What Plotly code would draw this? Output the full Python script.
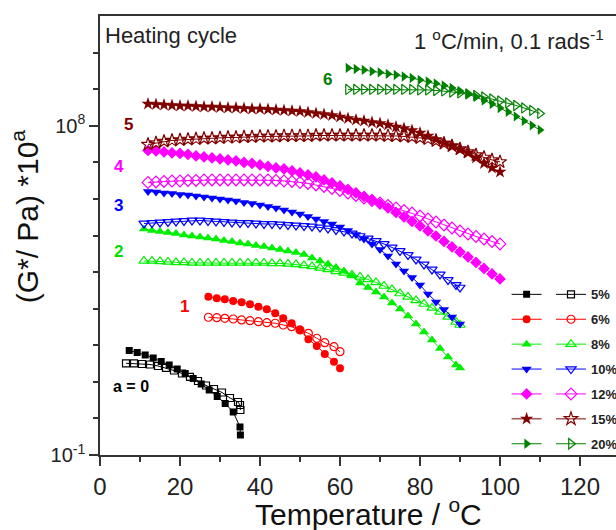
import plotly.graph_objects as go

FONT = "Liberation Sans, Arial, sans-serif"

# ---------------- data (log10 of G*·10^a) ----------------
names = ["5%", "6%", "8%", "10%", "12%", "15%", "20%"]
colors = ["#000000", "#ff0000", "#00ee00", "#0000ff", "#ff00ff", "#800000", "#008000"]
sym_filled = ["square", "circle", "triangle-up", "triangle-down", "diamond", "star", "triangle-right"]
sym_open = ["square-open", "circle-open", "triangle-up-open", "triangle-down-open",
            "diamond-open", "star-open", "triangle-right-open"]
msize = [7, 8, 9, 9, 9, 10, 9]

T_5f = [7.3, 9.3, 11.3, 13.3, 15.3, 17.3, 19.3, 21.3, 23.3, 25.3, 27.3, 29.3, 31.3, 33.3, 35.0, 35.1]
L_5f = [1.857, 1.802, 1.734, 1.652, 1.556, 1.461, 1.351, 1.228, 1.092, 0.941, 0.777, 0.599, 0.408,
        0.176, -0.234, -0.453]
T_5o = [6.5, 8.5, 10.5, 12.5, 14.5, 16.5, 18.5, 20.5, 22.5, 24.5, 26.5, 28.5, 30.5, 32.5, 34.5, 35.0, 35.1]
L_5o = [1.507, 1.502, 1.488, 1.474, 1.433, 1.379, 1.310, 1.228, 1.133, 1.023, 0.900, 0.804, 0.709,
        0.558, 0.449, 0.367, 0.230]

T_6 = [27.1, 29.2, 31.2, 33.3, 35.4, 37.5, 39.6, 41.7, 43.8, 45.8, 47.9, 50.0, 52.1, 54.2, 56.2, 58.5, 60.0]
L_6f = [3.328, 3.284, 3.257, 3.210, 3.175, 3.120, 3.055, 2.983, 2.874, 2.737, 2.601, 2.418, 2.163,
        1.980, 1.761, 1.551, 1.370]
L_6o = [2.765, 2.754, 2.737, 2.718, 2.691, 2.672, 2.644, 2.617, 2.601, 2.554, 2.508, 2.418, 2.327,
        2.191, 2.070, 1.961, 1.824]

T_8 = [11, 13, 15, 17, 19, 21, 23, 25, 27, 29, 31, 33, 35, 37, 39, 41, 43, 45, 47, 49, 51, 53, 55,
       57, 59, 61, 63, 65, 67, 69, 71, 73, 75, 77, 79, 81, 83, 85, 87, 89, 90]
L_8f = [5.179, 5.138, 5.110, 5.083, 5.056, 5.015, 4.987, 4.960, 4.933, 4.905, 4.864, 4.837, 4.796,
        4.769, 4.728, 4.700, 4.659, 4.618, 4.577, 4.536, 4.482, 4.386, 4.304, 4.222, 4.126, 4.031,
        3.894, 3.702, 3.579, 3.456, 3.320, 3.156, 2.992, 2.800, 2.582, 2.363, 2.144, 1.912, 1.679,
        1.461, 1.379]
L_8o = [4.304, 4.304, 4.290, 4.277, 4.263, 4.263, 4.249, 4.249, 4.249, 4.249, 4.249, 4.249, 4.249,
        4.249, 4.249, 4.249, 4.236, 4.236, 4.222, 4.208, 4.181, 4.154, 4.113, 4.072, 4.017, 3.976,
        3.921, 3.867, 3.798, 3.716, 3.620, 3.525, 3.415, 3.320, 3.224, 3.128, 3.019, 2.910, 2.773,
        2.636, 2.554]

T_10f = [12, 14, 16, 18, 20, 22, 24, 26, 28, 30, 32, 34, 36, 38, 40, 42, 44, 46, 48, 50, 52, 54, 56,
         58, 60, 62, 64, 66, 68, 70, 72, 74, 76, 78, 80, 82, 84, 86, 88, 90]
L_10f = [6.204, 6.190, 6.163, 6.149, 6.122, 6.108, 6.081, 6.054, 6.026, 5.999, 5.972, 5.944, 5.903,
         5.876, 5.835, 5.794, 5.753, 5.698, 5.644, 5.589, 5.521, 5.452, 5.384, 5.316, 5.234, 5.138,
         5.028, 4.905, 4.769, 4.618, 4.441, 4.222, 4.031, 3.853, 3.648, 3.402, 3.183, 2.978, 2.773,
         2.582]
T_10o = T_8
L_10o = [5.329, 5.343, 5.357, 5.370, 5.384, 5.398, 5.411, 5.411, 5.398, 5.384, 5.370, 5.357, 5.343,
         5.343, 5.329, 5.316, 5.316, 5.302, 5.288, 5.275, 5.261, 5.247, 5.220, 5.193, 5.152, 5.110,
         5.056, 4.987, 4.919, 4.851, 4.769, 4.673, 4.577, 4.468, 4.345, 4.208, 4.072, 3.935, 3.785,
         3.648, 3.579]

T_12 = [12, 14, 16, 18, 20, 22, 24, 26, 28, 30, 32, 34, 36, 38, 40, 42, 44, 46, 48, 50, 52, 54, 56,
        58, 60, 62, 64, 66, 68, 70, 72, 74, 76, 78, 80, 82, 84, 86, 88, 90, 92, 94, 96, 98, 100]
L_12f = [7.325, 7.311, 7.284, 7.257, 7.243, 7.216, 7.175, 7.147, 7.120, 7.093, 7.065, 7.038, 6.997,
         6.970, 6.929, 6.888, 6.847, 6.819, 6.765, 6.710, 6.655, 6.601, 6.519, 6.436, 6.354, 6.259,
         6.163, 6.067, 5.972, 5.862, 5.753, 5.630, 5.507, 5.384, 5.261, 5.124, 4.987, 4.837, 4.687,
         4.550, 4.413, 4.263, 4.099, 3.949, 3.812]
L_12o = [6.450, 6.464, 6.478, 6.491, 6.491, 6.505, 6.505, 6.519, 6.519, 6.519, 6.519, 6.519, 6.519,
         6.519, 6.519, 6.519, 6.505, 6.491, 6.478, 6.450, 6.423, 6.382, 6.341, 6.286, 6.231, 6.163,
         6.095, 6.026, 5.958, 5.890, 5.821, 5.753, 5.685, 5.616, 5.534, 5.452, 5.370, 5.288, 5.206,
         5.124, 5.042, 4.974, 4.905, 4.837, 4.769]

T_15 = T_12
L_15f = [8.596, 8.583, 8.569, 8.555, 8.542, 8.542, 8.528, 8.514, 8.514, 8.501, 8.487, 8.487, 8.473,
         8.460, 8.460, 8.446, 8.432, 8.419, 8.405, 8.391, 8.364, 8.337, 8.309, 8.282, 8.241, 8.200,
         8.159, 8.132, 8.091, 8.063, 8.022, 7.968, 7.926, 7.872, 7.803, 7.722, 7.626, 7.530, 7.448,
         7.352, 7.257, 7.120, 6.970, 6.847, 6.737]
L_15o = [7.489, 7.530, 7.571, 7.598, 7.612, 7.626, 7.639, 7.653, 7.653, 7.667, 7.680, 7.680, 7.694,
         7.694, 7.708, 7.708, 7.708, 7.722, 7.722, 7.722, 7.722, 7.735, 7.735, 7.735, 7.735, 7.735,
         7.735, 7.735, 7.735, 7.735, 7.722, 7.722, 7.708, 7.694, 7.667, 7.639, 7.585, 7.516, 7.448,
         7.366, 7.284, 7.202, 7.134, 7.065, 7.011]

T_20 = [62, 64, 66, 68, 70, 72, 74, 76, 78, 80, 82, 84, 86, 88, 90, 92, 94, 96, 98, 100, 102, 104,
        106, 108, 110]
L_20f = [9.581, 9.553, 9.526, 9.485, 9.458, 9.417, 9.389, 9.348, 9.307, 9.253, 9.211, 9.157, 9.102,
         9.034, 8.952, 8.870, 8.788, 8.692, 8.596, 8.487, 8.378, 8.255, 8.132, 8.009, 7.886]
L_20o = [8.993, 8.993, 8.993, 8.993, 8.993, 8.993, 8.993, 8.993, 8.993, 8.979, 8.979, 8.965, 8.952,
         8.924, 8.897, 8.870, 8.829, 8.788, 8.733, 8.678, 8.624, 8.555, 8.487, 8.419, 8.337]

filled = [(T_5f, L_5f), (T_6, L_6f), (T_8, L_8f), (T_10f, L_10f), (T_12, L_12f), (T_15, L_15f), (T_20, L_20f)]
opened = [(T_5o, L_5o), (T_6, L_6o), (T_8, L_8o), (T_10o, L_10o), (T_12, L_12o), (T_15, L_15o), (T_20, L_20o)]

x_ticks = [0, 20, 40, 60, 80, 100, 120]
x_minor = [10, 30, 50, 70, 90, 110]
y_ticks = [1e-1, 1e8]
y_ticktext = ["10<sup>-1</sup>", "10<sup>8</sup>"]
y_minor = [1e0, 1e1, 1e2, 1e3, 1e4, 1e5, 1e6, 1e7, 1e9, 1e10]

# shift labels: (text, T, log10 value, color)
labels = [("a = 0", 7.75, 0.886, "#000000"), ("1", 21.0, 3.046, "#ff0000"),
          ("2", 4.5, 4.550, "#00dd00"), ("3", 4.5, 5.808, "#0000ff"),
          ("4", 4.75, 6.874, "#ff00ff"), ("5", 7.0, 8.022, "#800000"),
          ("6", 56.75, 9.253, "#008000")]

fig = go.Figure()
for i, nm in enumerate(names):
    c = colors[i]
    tf, lf = filled[i]
    to, lo = opened[i]
    fig.add_trace(go.Scatter(
        x=tf, y=[10 ** v for v in lf], mode="lines+markers", name="",
        line=dict(color=c, width=1),
        marker=dict(symbol=sym_filled[i], size=msize[i], color=c, line=dict(width=0)),
        legend="legend", legendgroup=nm + "f"))
    fig.add_trace(go.Scatter(
        x=to, y=[10 ** v for v in lo], mode="lines+markers", name=nm,
        line=dict(color=c, width=1),
        marker=dict(symbol=sym_open[i], size=msize[i], color=c, line=dict(width=1.2, color=c)),
        legend="legend2", legendgroup=nm + "o"))

annotations = []
for txt, t, lv, c in labels:
    annotations.append(dict(x=t, y=lv, xref="x", yref="y", text="<b>%s</b>" % txt, showarrow=False,
                            font=dict(family=FONT, size=17 if txt != "a = 0" else 16, color=c)))
annotations.append(dict(x=0.006, y=0.955, xref="paper", yref="paper", xanchor="left", yanchor="middle",
                        text="Heating cycle", showarrow=False, font=dict(family=FONT, size=22, color="#222")))
annotations.append(dict(x=0.981, y=0.945, xref="paper", yref="paper", xanchor="right", yanchor="middle",
                        text="1 <sup>o</sup>C/min, 0.1 rads<sup>-1</sup>", showarrow=False,
                        font=dict(family=FONT, size=22, color="#222")))
# axis titles (placed off-centre, as in the reference)
annotations.append(dict(x=-0.145, y=0.544, xref="paper", yref="paper", xanchor="center", yanchor="middle",
                        textangle=-90, text="(G*/ Pa) *10<sup>a</sup>", showarrow=False,
                        font=dict(family=FONT, size=30, color="#111")))
annotations.append(dict(x=0.521, y=-0.130, xref="paper", yref="paper", xanchor="center", yanchor="middle",
                        text="Temperature / <sup>o</sup>C", showarrow=False,
                        font=dict(family=FONT, size=30, color="#111")))

fig.update_layout(
    width=616, height=530,
    margin=dict(l=100, r=0, t=16, b=75, autoexpand=False),
    paper_bgcolor="white", plot_bgcolor="white",
    font=dict(family=FONT, color="#222"),
    annotations=annotations,
    legend=dict(x=0.788, y=0.40, xanchor="left", yanchor="top", bgcolor="rgba(0,0,0,0)",
                font=dict(family=FONT, size=13, color="#222"), tracegroupgap=5,
                traceorder="grouped"),
    legend2=dict(x=0.874, y=0.40, xanchor="left", yanchor="top", bgcolor="rgba(0,0,0,0)",
                 font=dict(family=FONT, size=13, color="#222", weight="bold"), tracegroupgap=5,
                 traceorder="grouped", itemwidth=30),
    xaxis=dict(range=[0, 129], automargin=False, showline=True, linecolor="#333", linewidth=1.5,
               mirror=True, showgrid=False, zeroline=False, ticks="outside", tickmode="array",
               tickvals=x_ticks, ticklen=9, tickwidth=1.5, tickcolor="#333",
               minor=dict(ticks="outside", tickmode="array", tickvals=x_minor, ticklen=5,
                          tickwidth=1.5, tickcolor="#333", showgrid=False),
               tickfont=dict(family=FONT, size=24, color="#222")),
    yaxis=dict(type="log", range=[-1, 11], automargin=False, showline=True, linecolor="#333",
               linewidth=1.5, mirror=False, showgrid=False, zeroline=False, ticks="outside",
               tickmode="array", tickvals=y_ticks, ticktext=y_ticktext, ticklen=9, tickwidth=1.5,
               tickcolor="#333",
               minor=dict(ticks="outside", tickmode="array", tickvals=y_minor, ticklen=5,
                          tickwidth=1.5, tickcolor="#333", showgrid=False),
               tickfont=dict(family=FONT, size=20, color="#222")),
)

fig.write_html("out.html", config={"displayModeBar": False},
               post_script="document.body.style.margin='0px';")
